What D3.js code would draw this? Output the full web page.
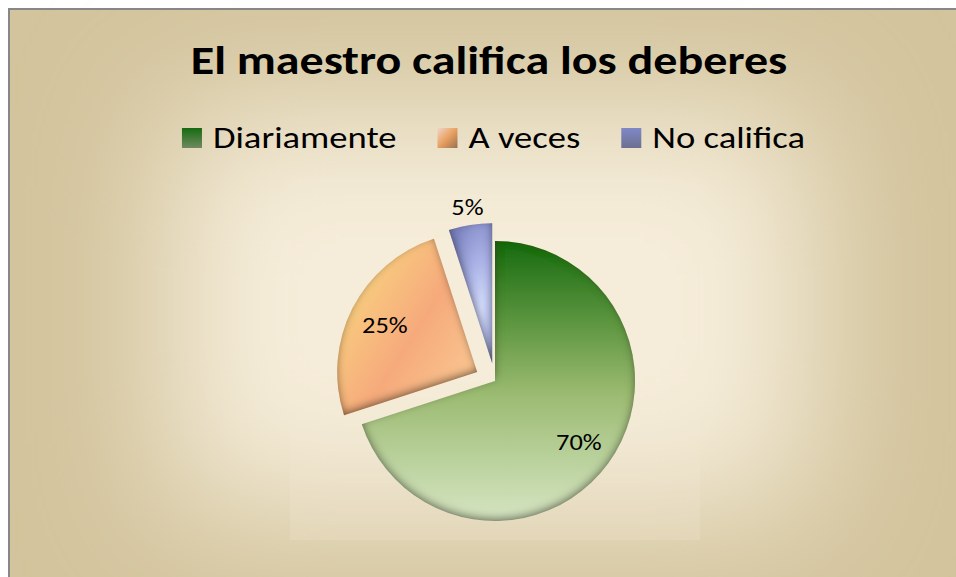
<!DOCTYPE html>
<html>
<head>
<meta charset="utf-8">
<script src="https://cdn.jsdelivr.net/npm/d3@7"></script>
<style>
  html, body { margin: 0; padding: 0; background: #fff; }
  svg { display: block; }
  text { font-family: Calibri, Carlito, Lato, sans-serif; }
</style>
</head>
<body>
<svg id="chart" width="956" height="577"></svg>
<script>
// data
const title = 'El maestro califica los deberes';
const categories = ['Diariamente', 'A veces', 'No califica'];
const values = [70, 25, 5];
const percentLabels = ['70%', '25%', '5%'];

const W = 956;
const H = 577;
const stretch = 1.2; // the original image is a bit wider than tall
const svg = d3.select('#chart');
const defs = svg.append('defs');

// background glow (rectangular "path" gradient look)
const glow = defs.append('filter').attr('id', 'glow')
    .attr('x', '-50%').attr('y', '-50%').attr('width', '200%').attr('height', '200%');
glow.append('feGaussianBlur').attr('stdDeviation', 70);

// inner bevel shadow for slices
const inner = defs.append('filter').attr('id', 'inner')
    .attr('x', '-20%').attr('y', '-20%').attr('width', '140%').attr('height', '140%');
inner.append('feComponentTransfer').attr('in', 'SourceAlpha').attr('result', 'inv')
    .append('feFuncA').attr('type', 'table').attr('tableValues', '1 0');
inner.append('feGaussianBlur').attr('in', 'inv').attr('stdDeviation', 4.5).attr('result', 'blur');
inner.append('feOffset').attr('in', 'blur').attr('dy', -3).attr('result', 'off');
inner.append('feFlood').attr('flood-color', '#2e2818').attr('flood-opacity', 0.85).attr('result', 'col');
inner.append('feComposite').attr('in', 'col').attr('in2', 'off').attr('operator', 'in').attr('result', 'sh');
inner.append('feComposite').attr('in', 'sh').attr('in2', 'SourceAlpha').attr('operator', 'in').attr('result', 'insh');
const merge = inner.append('feMerge');
merge.append('feMergeNode').attr('in', 'SourceGraphic');
merge.append('feMergeNode').attr('in', 'insh');

// slice gradients
const gGreen = defs.append('linearGradient').attr('id', 'grad0')
    .attr('x1', 0).attr('y1', 0).attr('x2', 0).attr('y2', 1);
[[0, '#166a10'], [0.3, '#5f9741'], [0.55, '#9cbb72'], [0.8, '#bcd3a0'], [1, '#d6e5c2']]
    .forEach(([o, c]) => gGreen.append('stop').attr('offset', o).attr('stop-color', c));

const gOrange = defs.append('linearGradient').attr('id', 'grad1')
    .attr('x1', 0).attr('y1', 0.1).attr('x2', 1).attr('y2', 0.9);
[[0, '#f1d6cc'], [0.22, '#f8c87e'], [0.55, '#f6aa7c'], [0.85, '#f9c08c'], [1, '#f8c896']]
    .forEach(([o, c]) => gOrange.append('stop').attr('offset', o).attr('stop-color', c));

const gBlue = defs.append('radialGradient').attr('id', 'grad2')
    .attr('cx', 0.75).attr('cy', 0.6).attr('r', 0.75);
[[0, '#d2daf9'], [0.45, '#aab2e6'], [1, '#7d84c2']]
    .forEach(([o, c]) => gBlue.append('stop').attr('offset', o).attr('stop-color', c));

const legendFill = ['url(#grad0)', 'url(#grad1)', 'url(#grad2)'];
const legendGrads = [
    [['#166a10', 0], ['#6f8a60', 1]],
    [['#f0d6c8', 0], ['#e8a060', 0.5], ['#9a7050', 1]],
    [['#8088c8', 0], ['#6c7090', 1]]
];
legendGrads.forEach((stops, i) => {
    const g = defs.append('linearGradient').attr('id', 'lg' + i)
        .attr('x1', 0).attr('y1', 0).attr('x2', i === 1 ? 1 : 0).attr('y2', 1);
    stops.forEach(([c, o]) => g.append('stop').attr('offset', o).attr('stop-color', c));
});

// background
svg.append('rect').attr('x', 8).attr('y', 8).attr('width', W - 8).attr('height', H - 8)
    .attr('fill', '#d3c49d');
svg.append('rect').attr('x', 170).attr('y', 110).attr('width', 640).attr('height', 400)
    .attr('fill', '#f6eedb').attr('filter', 'url(#glow)');
svg.append('rect').attr('x', 290).attr('y', 178).attr('width', 410).attr('height', 362)
    .attr('fill', '#f7edd6').attr('opacity', 0.2);
svg.append('line').attr('x1', 8).attr('x2', W).attr('y1', 9).attr('y2', 9)
    .attr('stroke', '#878787').attr('stroke-width', 2);
svg.append('line').attr('x1', 9).attr('x2', 9).attr('y1', 8).attr('y2', H)
    .attr('stroke', '#878787').attr('stroke-width', 2);

// title
svg.append('text')
    .attr('transform', `translate(489,74) scale(${stretch},1)`)
    .attr('text-anchor', 'middle')
    .attr('font-size', 40).attr('font-weight', 'bold')
    .attr('fill', '#000')
    .text(title);

// legend
const legend = svg.append('g');
let prev;
legend.selectAll('g.item')
    .data(categories)
    .enter()
    .append('g')
    .attr('class', 'item')
    .each(function (d, i) {
        const g = d3.select(this);
        g.append('rect')
            .attr('x', 0).attr('y', 128).attr('width', 20).attr('height', 20)
            .attr('fill', `url(#lg${i})`);
        g.append('text')
            .attr('transform', `translate(31,148) scale(${stretch + 0.02},1)`)
            .attr('font-size', 30)
            .attr('fill', '#000')
            .text(d);
        const start = i === 0 ? 0 : prev + 41;
        if (i !== 0) g.attr('transform', `translate(${start}, 0)`);
        prev = start + this.getBBox().width;
    });
const lb = legend.node().getBBox();
legend.attr('transform', `translate(${493.5 - lb.width / 2}, 0)`);

// pie
const cx = 495, cy = 381, r = 140;
const explode = { 'Diariamente': 0, 'A veces': 20, 'No califica': 18 };
const pie = d3.pie().sort(null).value(d => d.v);
const arcs = pie(categories.map((c, i) => ({ c, v: values[i], l: percentLabels[i] })));
const arc = d3.arc().innerRadius(0).outerRadius(r);

const pieG = svg.append('g').attr('transform', `translate(${cx},${cy})`);
const slices = pieG.selectAll('g.slice')
    .data(arcs)
    .enter()
    .append('g')
    .attr('class', 'slice')
    .attr('transform', d => {
        const a = (d.startAngle + d.endAngle) / 2;
        const e = explode[d.data.c];
        return `translate(${Math.sin(a) * e},${-Math.cos(a) * e})`;
    });

slices.append('path')
    .attr('d', arc)
    .attr('fill', (d, i) => legendFill[i])
    .attr('filter', 'url(#inner)');

slices.append('text')
    .attr('transform', d => {
        const a = (d.startAngle + d.endAngle) / 2;
        const lr = d.data.v < 10 ? r + 18 : r * 0.74;
        return `translate(${Math.sin(a) * lr},${-Math.cos(a) * lr}) scale(${stretch},1)`;
    })
    .attr('text-anchor', 'middle')
    .attr('dy', '0.35em')
    .attr('font-size', 22)
    .attr('fill', '#000')
    .text(d => d.data.l);
</script>
</body>
</html>
